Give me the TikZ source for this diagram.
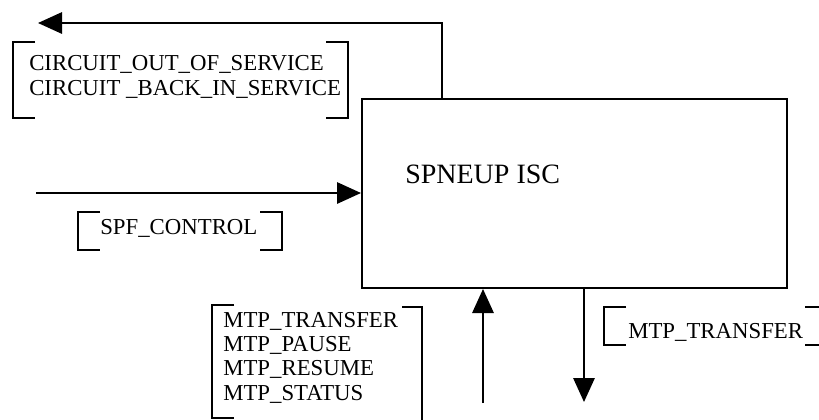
\documentclass[tikz,border=0pt]{standalone}
\usepackage{fontspec}
\setmainfont{Liberation Serif}
\usepackage{tikz}
\usetikzlibrary{arrows.meta, calc, positioning}
\tikzset{
  %% -- the ISC block --
  ISC/block/.style={
    draw, line width=1.5pt, minimum width=318.75pt, minimum height=141.75pt,
    inner sep=0pt
  },
  %% -- block title --
  ISC/title/.style={font=\fontsize{21}{24}\selectfont, inner sep=0pt},
  %% -- primitive list --
  ISC/prim/.style={
    font=\fontsize{17.1}{18.2}\selectfont, align=left, inner sep=0pt
  },
  %% -- square bracket round a primitive list --
  ISC/brk/.style={line width=1.5pt},
  %% -- signal flow --
  ISC/arr/.style={-{Triangle[length=18pt, width=16pt]}, line width=1.5pt},
}

\begin{document}
\begin{tikzpicture}[x=0.75pt, y=-0.75pt]

\useasboundingbox (0,0) rectangle (819,419);
\clip (0,0) rectangle (819,419);

%% ── Block ──────────────────────────────────────────────────────────────────
\node[ISC/block] (isc) at (574.5,193.5) {};
\node[ISC/title, anchor=base west] (iscName) at (405,183) {SPNEUP ISC};

%% ── Free ends of the signals ───────────────────────────────────────────────
\coordinate (cosTip) at (38,23);
\coordinate (spfIn)  at (36,193);
\coordinate (mtpIn)  at (483,403);
\coordinate (mtpOut) at (584,402);

%% ── Signals ────────────────────────────────────────────────────────────────
\draw[ISC/arr] ($(isc.north west)+(81,0)$) |- (cosTip);
\draw[ISC/arr] (spfIn) -- (isc.west |- spfIn);
\draw[ISC/arr] (mtpIn) -- (mtpIn |- isc.south);
\draw[ISC/arr] (mtpOut |- isc.south) -- (mtpOut);

%% ── Primitive lists (anchored at the last baseline) ────────────────────────
\node[ISC/prim, anchor=base west] (cosList) at (29,95)
  {CIRCUIT\_OUT\_OF\_SERVICE\\CIRCUIT \_BACK\_IN\_SERVICE};
\node[ISC/prim, anchor=base west] (spfList) at (100,234) {SPF\_CONTROL};
\node[ISC/prim, anchor=base west] (mtpList) at (223,400)
  {MTP\_TRANSFER\\MTP\_PAUSE\\MTP\_RESUME\\MTP\_STATUS};
\node[ISC/prim, anchor=base west] (mtpOutList) at (628,338) {MTP\_TRANSFER};

%% ── Brackets ───────────────────────────────────────────────────────────────
\draw[ISC/brk] (35,42) -- (13,42) -- (13,118) -- (35,118);
\draw[ISC/brk] (326,42) -- (348,42) -- (348,118) -- (326,118);

\draw[ISC/brk] (100,212) -- (78,212) -- (78,250) -- (100,250);
\draw[ISC/brk] (260,212) -- (282,212) -- (282,250) -- (260,250);

\draw[ISC/brk] (234,305) -- (212,305) -- (212,418) -- (234,418);
\draw[ISC/brk] (402,307) -- (422,307) -- (422,425);

\draw[ISC/brk] (626,307) -- (604,307) -- (604,345) -- (626,345);
\draw[ISC/brk] (805,307) -- (822,307) -- (822,345) -- (805,345);

\end{tikzpicture}
\end{document}
